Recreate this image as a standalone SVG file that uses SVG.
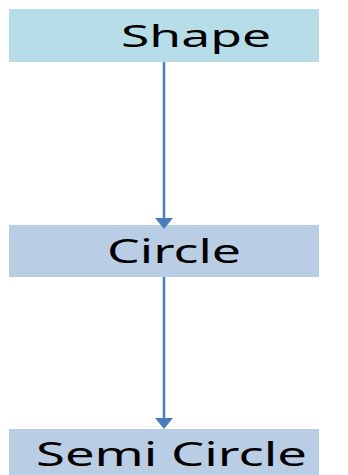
<svg xmlns="http://www.w3.org/2000/svg" width="348" height="475" viewBox="0 0 348 475">
<style>
.lbl{font-family:"Noto Sans","Open Sans","DejaVu Sans",sans-serif;font-size:33px;fill:#000}
.edge{stroke:#4a7ebb;stroke-width:2.5;fill:none}
.head{fill:#4a7ebb}
</style>
<rect width="348" height="475" fill="#fff"/>
<g id="shape">
<rect x="9" y="9" width="310" height="53" fill="#b7dde8"/>
<text class="lbl" x="121" y="47" style="font-size:31px" textLength="150" lengthAdjust="spacingAndGlyphs">Shape</text>
</g>
<g id="circle">
<rect x="9" y="225" width="310" height="52" fill="#b9cde5"/>
<text class="lbl" x="107" y="263" textLength="134" lengthAdjust="spacingAndGlyphs">Circle</text>
</g>
<g id="semicircle">
<rect x="9" y="429" width="310" height="46" fill="#b9cde5"/>
<text class="lbl" x="36" y="466" textLength="271" lengthAdjust="spacingAndGlyphs">Semi Circle</text>
</g>
<g id="connectors">
<line class="edge" x1="164" y1="62" x2="164" y2="219"/>
<polygon class="head" points="155,218 173,218 164,229"/>
<line class="edge" x1="164" y1="277" x2="164" y2="419"/>
<polygon class="head" points="155,418 173,418 164,429"/>
</g>
</svg>
